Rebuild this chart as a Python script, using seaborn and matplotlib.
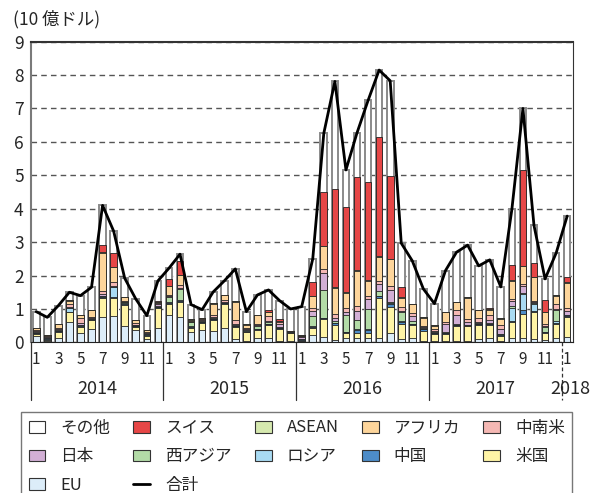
import matplotlib
matplotlib.use('Agg')
import matplotlib.pyplot as plt
import matplotlib.transforms as mtransforms
from matplotlib.patches import Patch
from matplotlib.lines import Line2D
import numpy as np
import pandas as pd
import seaborn as sns

# monthly values, Jan 2014 .. Jan 2018 (10 億ドル)
month_nums = [1, 2, 3, 4, 5, 6, 7, 8, 9, 10, 11, 12] * 4 + [1]
years = ['2014', '2015', '2016', '2017', '2018']

eu = [.20, .05, .12, .60, .27, .40, .76, .80, .50, .38, .10, .42,
      .81, .76, .32, .37, .34, .44, .10, .05, .12, .12, .05, .03,
      .03, .22, .17, .07, .14, .14, .12, .14, .27, .10, .13, .05,
      .05, .05, .05, .05, .10, .12, .05, .12, .14, .10, .07, .14,
      .17]
usa = [.05, .03, .20, .30, .20, .27, .56, .53, .63, .08, .10, .60,
       .35, .45, .12, .20, .33, .72, .37, .25, .25, .40, .35, .25,
       .02, .22, .52, .45, .13, .13, .15, 1.20, .80, .46, .38, .30,
       .20, .20, .45, .43, .42, .40, .15, .50, .72, .80, .20, .42,
       .60]
china = [.02, .03, .02, .02, .02, .01, .03, .02, .03, .02, .03, .03,
         .03, .03, .02, .03, .02, .01, .02, .02, .02, .03, .02, .01,
         .03, .03, .03, .05, .03, .10, .10, .05, .08, .05, .03, .04,
         .03, .02, .02, .02, .02, .03, .03, .02, .10, .05, .03, .02,
         .02]
russia = [.02, .01, .01, .10, .02, .02, .03, .30, .02, .01, .01, .02,
          .02, .02, .02, .01, .01, .01, .01, .01, .01, .01, .01, .01,
          .01, .01, .01, .02, .02, .02, .02, .01, .02, .02, .02, .01,
          .01, .01, .01, .01, .01, .01, .01, .40, .50, .20, .02, .05,
          .02]
west_asia = [.03, .02, .02, .02, .02, .01, .02, .02, .02, .02, .02, .02,
             .15, .35, .12, .02, .02, .01, .02, .05, .10, .04, .02, .01,
             .02, .30, .85, .05, .50, .28, .60, .15, .05, .27, .08, .03,
             .02, .02, .02, .02, .02, .02, .02, .05, .03, .02, .15, .35,
             .02]
japan = [.02, .02, .02, .03, .04, .02, .05, .03, .02, .02, .02, .05,
         .02, .02, .02, .03, .04, .02, .04, .02, .02, .03, .10, .01,
         .04, .15, .50, .10, .10, .28, .30, .20, .35, .05, .15, .03,
         .03, .25, .28, .08, .05, .10, .15, .15, .20, .03, .03, .03,
         .10]
latam = [.03, .02, .05, .08, .15, .03, .08, .10, .03, .05, .03, .04,
         .05, .08, .03, .03, .05, .05, .10, .03, .04, .15, .05, .01,
         .03, .10, .13, .10, .10, .15, .10, .10, .12, .10, .10, .03,
         .06, .05, .13, .10, .10, .15, .10, .05, .07, .05, .05, .15,
         .10]
africa = [.05, .03, .10, .10, .10, .20, 1.15, .45, .10, .08, .05, .02,
          .25, .30, .03, .03, .35, .15, .55, .10, .25, .12, .03, .01,
          .02, .35, .66, .80, .47, 1.05, .45, .72, .80, .28, .25, .25,
          .10, .30, .25, .63, .25, .15, .20, .55, .52, .70, .35, .23,
          .75]
asean = [.02, .01, .01, .01, .01, .01, .04, .02, .01, .01, .01, .01,
         .02, .02, .01, .01, .01, .01, .02, .01, .01, .01, .01, .01,
         .01, .02, .02, .02, .02, .02, .02, .02, .02, .02, .02, .01,
         .01, .01, .01, .01, .01, .01, .01, .02, .02, .02, .02, .02,
         .02]
swiss = [0, 0, 0, .02, 0, 0, .18, .40, 0, 0, 0, .02,
         .20, .40, 0, 0, 0, 0, 0, 0, 0, .05, .05, 0,
         0, .40, 1.60, 2.94, 2.53, 2.77, 2.94, 3.55, 2.47, .30, 0, 0,
         0, 0, 0, 0, 0, .03, 0, .45, 2.87, .40, .35, 0,
         .15]
other = [.48, .53, .55, .22, .57, .68, 1.20, .66, .56, .63, .43, .61,
         .32, .21, .44, .25, .34, .42, .97, .38, .60, .61, .56, .65,
         .86, .70, 1.77, 3.21, 1.12, 1.33, 2.44, 2.01, 2.85, 1.32, 1.28, .85,
         .65, 1.24, 1.48, 1.56, 1.31, 1.45, .94, 1.67, 1.83, 1.13, .63, 1.26,
         1.83]

regions = ['EU', '米国', '中国', 'ロシア', '西アジア', '日本', '中南米', 'アフリカ', 'ASEAN', 'スイス', 'その他']
colors = {
    'EU': '#dcedf9', '米国': '#fff4a6', '中国': '#4d8cc8', 'ロシア': '#a9dbf3',
    '西アジア': '#b3dba7', '日本': '#d2afd5', '中南米': '#f5b8b4', 'アフリカ': '#fdd59b',
    'ASEAN': '#d6e9af', 'スイス': '#e64646', 'その他': '#ffffff',
}

df = pd.DataFrame(dict(zip(regions, [eu, usa, china, russia, west_asia, japan,
                                     latam, africa, asean, swiss, other])))
df['合計'] = df[regions].sum(axis=1)
cum = df[regions].cumsum(axis=1)
idx = np.arange(len(df))

sns.set_style('white')
plt.rcParams['font.family'] = ['Noto Sans CJK JP', 'DejaVu Sans']

fig = plt.figure(figsize=(5.97, 4.93), dpi=100)
ax = fig.add_axes([0.0514, 0.3055, 0.9079, 0.6100])

# stacked bars: draw cumulative heights from the top layer down
for name in reversed(regions):
    if name == 'その他':
        edge, lw = '#8a8a8a', 1.4
    else:
        edge, lw = '#222222', 0.6
    sns.barplot(x=idx, y=cum[name].values, color=colors[name], saturation=1,
                width=0.6, edgecolor=edge, linewidth=lw, errorbar=None, ax=ax, zorder=2)

sns.lineplot(x=idx, y=df['合計'].values, color='black', linewidth=2, ax=ax, zorder=3)

ax.set_xlim(-0.5, 48.5)
ax.set_ylim(0, 9)
ax.set_xlabel('')
ax.set_ylabel('')

ax.set_yticks(range(10))
ax.tick_params(axis='y', length=0, pad=5, labelsize=12.5)
ax.set_axisbelow(True)
ax.yaxis.grid(True, linestyle=(0, (4, 3)), color='#555555', linewidth=1)

# month labels, month separators
odd = [i for i in idx if month_nums[i] % 2 == 1]
ax.set_xticks(odd)
ax.set_xticklabels([str(month_nums[i]) for i in odd], fontsize=11)
ax.tick_params(axis='x', which='major', length=0, pad=6)
ax.set_xticks(np.arange(-0.5, 49, 1), minor=True)
ax.tick_params(axis='x', which='minor', length=23, width=0.8, color='#333333', direction='out')

for s in ['left', 'top']:
    ax.spines[s].set_color('#7a7a7a')
    ax.spines[s].set_linewidth(1.5)
ax.spines['top'].set_color('#333333')
ax.spines['right'].set_color('#333333')
ax.spines['bottom'].set_color('#222222')

trans = mtransforms.blended_transform_factory(ax.transData, ax.transAxes)
for k, x0 in enumerate([-0.5, 11.5, 23.5, 35.5, 47.5]):
    ax.plot([x0, x0], [0, -0.19], transform=trans, clip_on=False, color='#333333',
            linewidth=0.9, linestyle='-' if k < 4 else (0, (3, 2)))
for k, y in enumerate(years):
    xc = 5.5 + 12 * k if k < 4 else 48.3
    ax.text(xc, -0.155, y, transform=trans, ha='center', va='center', fontsize=13)

fig.text(13 / 597, 1 - 19 / 493, '(10 億ドル)', ha='left', va='center', fontsize=12.5)

def box(name):
    return Patch(facecolor=colors[name], edgecolor='#333333', linewidth=0.8, label=name)

total_handle = Line2D([0], [0], color='black', linewidth=2, label='合計')
handles = [box('その他'), box('日本'), box('EU'),
           box('スイス'), box('西アジア'), total_handle,
           box('ASEAN'), box('ロシア'),
           box('アフリカ'), box('中国'),
           box('中南米'), box('米国')]
leg = fig.legend(handles=handles, ncol=5, loc='upper left',
                 bbox_to_anchor=(21 / 597, 1 - 412 / 493), borderaxespad=0,
                 fontsize=12, frameon=True, fancybox=False, handlelength=1.0,
                 handleheight=0.7, handletextpad=0.9, columnspacing=1.4,
                 labelspacing=0.7, borderpad=0.45)
leg.get_frame().set_edgecolor('#555555')
leg.get_frame().set_linewidth(1)

fig.savefig('out.png', dpi=100)
